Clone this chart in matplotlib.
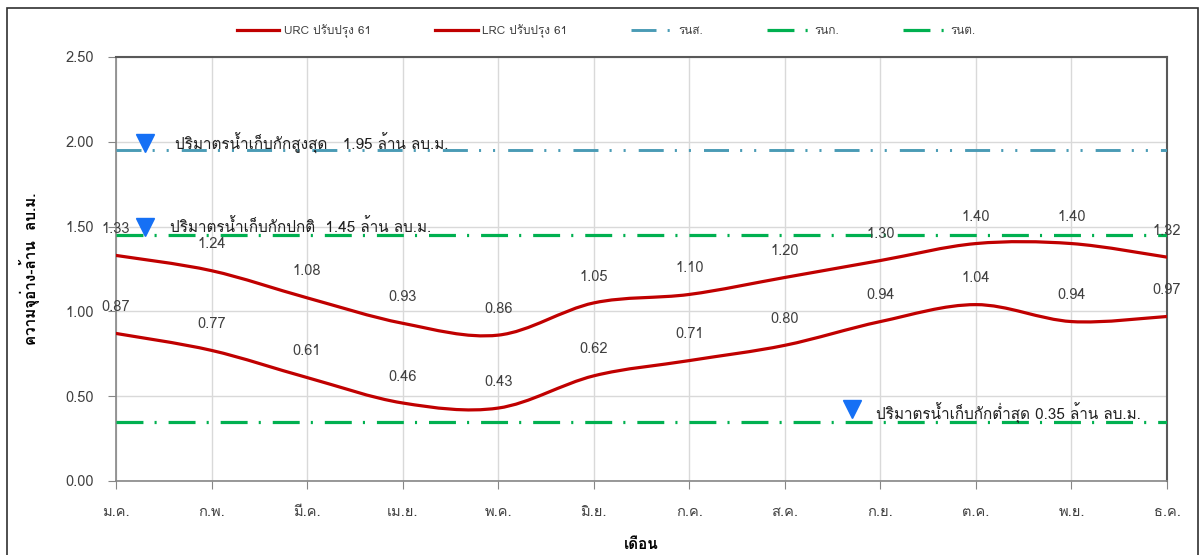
import matplotlib
matplotlib.use("Agg")
import matplotlib.pyplot as plt
from matplotlib import font_manager
from matplotlib.ft2font import FT2Font
from matplotlib.path import Path
from matplotlib.patches import PathPatch, Rectangle
from matplotlib.lines import Line2D

# ---------------- data ----------------
months = ["ม.ค.", "ก.พ.", "มี.ค.", "เม.ย.", "พ.ค.", "มิ.ย.", "ก.ค.", "ส.ค.", "ก.ย.", "ต.ค.", "พ.ย.", "ธ.ค."]
urc = [1.33, 1.24, 1.08, 0.93, 0.86, 1.05, 1.10, 1.20, 1.30, 1.40, 1.40, 1.32]
lrc = [0.87, 0.77, 0.61, 0.46, 0.43, 0.62, 0.71, 0.80, 0.94, 1.04, 0.94, 0.97]
max_storage = 1.95
normal_storage = 1.45
min_storage = 0.35
series_names = ["URC ปรับปรุง 61", "LRC ปรับปรุง 61", "รนส.", "รนก.", "รนต."]
yticks = [0.0, 0.5, 1.0, 1.5, 2.0, 2.5]
notes = ["ปริมาตรน้ำเก็บกักสูงสุด   1.95 ล้าน ลบ.ม.",
         "ปริมาตรน้ำเก็บกักปกติ  1.45 ล้าน ลบ.ม.",
         "ปริมาตรน้ำเก็บกักต่ำสุด 0.35 ล้าน ลบ.ม."]
xlabel = "เดือน"
ylabel = "ความจุอ่าง-ล้าน  ลบ.ม."

# ---------------- fonts ----------------
def has_thai(path):
    try:
        cm = FT2Font(path).get_charmap()
        return 0x0E1B in cm and 0x0E49 in cm and 0x0E33 in cm
    except Exception:
        return False

thai = []
for fe in font_manager.fontManager.ttflist:
    if fe.name not in thai and has_thai(fe.fname):
        thai.append(fe.name)
families = thai[:1] + ["DejaVu Sans"]
plt.rcParams["font.family"] = families
plt.rcParams["lines.scale_dashes"] = False

TXT = "#404040"
RED = "#C00000"
BLUE = "#4A9BB5"
GREEN = "#00B050"
TRI = "#1570F5"

fig = plt.figure(figsize=(12, 5.55), dpi=100)
fig.subplots_adjust(left=116/1200, right=1167/1200, top=1-57/555, bottom=1-481/555)
ax = fig.add_subplot(111)

x = list(range(len(months)))

def smooth_path(xs, ys, t=1/6):
    verts = [(xs[0], ys[0])]
    codes = [Path.MOVETO]
    n = len(xs)
    for i in range(n - 1):
        p0 = (xs[max(i-1, 0)], ys[max(i-1, 0)])
        p1 = (xs[i], ys[i])
        p2 = (xs[i+1], ys[i+1])
        p3 = (xs[min(i+2, n-1)], ys[min(i+2, n-1)])
        c1 = (p1[0] + (p2[0]-p0[0])*t, p1[1] + (p2[1]-p0[1])*t)
        c2 = (p2[0] - (p3[0]-p1[0])*t, p2[1] - (p3[1]-p1[1])*t)
        verts += [c1, c2, p2]
        codes += [Path.CURVE4]*3
    return Path(verts, codes)

lw_red = 2.3
for vals in (urc, lrc):
    ax.add_patch(PathPatch(smooth_path(x, vals), fill=False, edgecolor=RED, lw=lw_red,
                           capstyle="round", joinstyle="round", zorder=4))
    for xi, v in zip(x, vals):
        ax.annotate(f"{v:.2f}", (xi, v), xytext=(0, 19), textcoords="offset points",
                    ha="center", va="center", fontsize=10.5, color=TXT, zorder=6)

blue_ls = (0, (18, 8, 1.5, 8.6, 1.5, 9.4))
green_ls = (0, (19.4, 8, 1.5, 8.6))
ax.axhline(max_storage, color=BLUE, lw=2.1, ls=blue_ls, zorder=3)
ax.axhline(normal_storage, color=GREEN, lw=2.3, ls=green_ls, zorder=3)
ax.axhline(min_storage, color=GREEN, lw=2.3, ls=green_ls, zorder=3)

# annotations with triangle markers
ax.plot([0.30], [1.99], marker="v", color=TRI, ms=13, ls="none", zorder=7)
ax.plot([0.30], [1.50], marker="v", color=TRI, ms=13, ls="none", zorder=7)
ax.plot([7.70], [0.425], marker="v", color=TRI, ms=13, ls="none", zorder=7)
ax.text(0.62, 1.99, notes[0], fontsize=11, color="#202020", va="center", ha="left", zorder=7)
ax.text(0.565, 1.50, notes[1], fontsize=11, color="#202020", va="center", ha="left", zorder=7)
ax.text(7.95, 0.40, notes[2], fontsize=11, color="#202020", va="center", ha="left", zorder=7)

ax.set_xlim(0, len(months) - 1)
ax.set_ylim(0, 2.5)
ax.set_xticks(x)
ax.set_xticklabels(months)
ax.set_yticks(yticks)
ax.set_yticklabels([f"{t:.2f}" for t in yticks])
ax.grid(True, color="#D9D9D9", lw=1.0, zorder=0)
ax.set_axisbelow(True)
ax.tick_params(axis="y", direction="out", length=6, color="#868686", labelsize=10.5,
               labelcolor=TXT, pad=10)
ax.tick_params(axis="x", direction="out", length=6, color="#868686", labelsize=10.5,
               labelcolor=TXT, pad=11)
for s in ("top", "right"):
    ax.spines[s].set_color("#595959")
    ax.spines[s].set_linewidth(1.5)
for s in ("left", "bottom"):
    ax.spines[s].set_color("#868686")
    ax.spines[s].set_linewidth(1.2)

ax.set_xlabel(xlabel, fontsize=11, fontweight="bold", color="#000000", labelpad=14)
ax.set_ylabel(ylabel, fontsize=11, fontweight="bold", color="#000000", labelpad=18)

handles = [Line2D([], [], color=RED, lw=2.3),
           Line2D([], [], color=RED, lw=2.3),
           Line2D([], [], color=BLUE, lw=2.1, ls=blue_ls),
           Line2D([], [], color=GREEN, lw=2.3, ls=green_ls),
           Line2D([], [], color=GREEN, lw=2.3, ls=green_ls)]
leg = fig.legend(handles, series_names, loc="center", bbox_to_anchor=(0.505, 1-31/555), ncol=5,
                 frameon=False, fontsize=8.5, handlelength=3.6, handletextpad=0.4,
                 columnspacing=5.4, labelcolor=TXT)

fig.add_artist(Rectangle((7/1200, -0.01), 1191/1200, 1.01-8/555, transform=fig.transFigure,
                         fill=False, edgecolor="#303030", lw=1.2))

fig.savefig("out.png", dpi=100)
